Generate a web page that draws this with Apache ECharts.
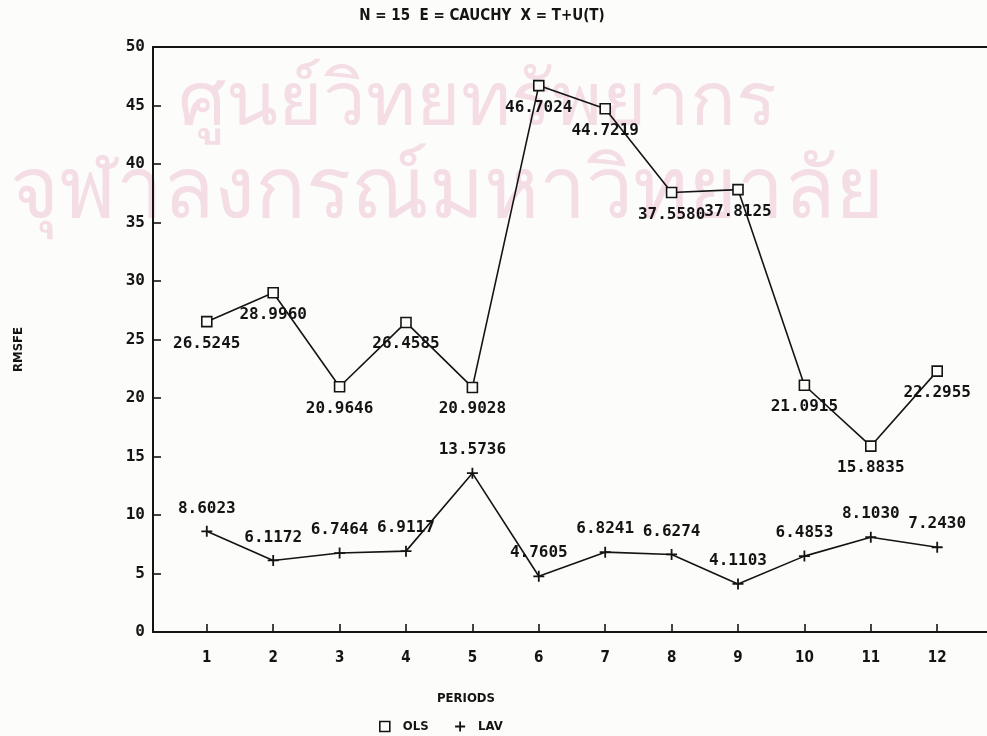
<!DOCTYPE html>
<html>
<head>
<meta charset="utf-8">
<script src="https://cdn.jsdelivr.net/npm/echarts@6/dist/echarts.min.js"></script>
<style>
  html, body { margin: 0; padding: 0; background: #fcfcfb; }
  #chart { width: 987px; height: 736px; }
</style>
</head>
<body>
<div id="chart"></div>
<script>
// Forecast periods and RMSFE for the two estimators
const periods = [1, 2, 3, 4, 5, 6, 7, 8, 9, 10, 11, 12];
const olsValues = [26.5245, 28.9960, 20.9646, 26.4585, 20.9028, 46.7024, 44.7219, 37.5580, 37.8125, 21.0915, 15.8835, 22.2955];
const lavValues = [8.6023, 6.1172, 6.7464, 6.9117, 13.5736, 4.7605, 6.8241, 6.6274, 4.1103, 6.4853, 8.1030, 7.2430];
const yTicks = [0, 5, 10, 15, 20, 25, 30, 35, 40, 45, 50];

const ink = '#141414';
const monoFont = 'DejaVu Sans Mono';
const condFont = 'DejaVu Sans Condensed';

const pair = (vals) => periods.map((p, i) => [p, vals[i]]);
const plusPath = 'path://M5,0L5,10M0,5L10,5';

const chart = echarts.init(document.getElementById('chart'), null, { renderer: 'canvas' });

chart.setOption({
  backgroundColor: '#fcfcfb',
  animation: false,
  title: {
    text: 'N = 15  E = CAUCHY  X = T+U(T)',
    left: 477,
    textAlign: 'center',
    top: 4,
    textStyle: { fontFamily: condFont, fontWeight: 'bold', fontSize: 15, color: ink }
  },
  legend: {
    left: 374,
    top: 714,
    itemWidth: 10,
    itemHeight: 10,
    itemGap: 24,
    textStyle: { fontFamily: condFont, fontWeight: 'bold', fontSize: 13, color: ink, padding: [0, 0, 0, 8] },
    data: [
      { name: 'OLS', icon: 'rect', itemStyle: { color: '#fcfcfb', borderColor: ink, borderWidth: 1.6 } },
      { name: 'LAV', icon: plusPath, itemStyle: { color: 'none', borderColor: ink, borderWidth: 1.8 } }
    ]
  },
  grid: { left: 153, right: 0, top: 47, bottom: 104 },
  xAxis: [
    {
      type: 'value',
      min: 0.19,
      max: 12.75,
      axisLine: { show: true, lineStyle: { color: ink, width: 2 } },
      axisTick: { show: true, inside: true, length: 8, customValues: periods, lineStyle: { color: ink, width: 1.6 } },
      axisLabel: { customValues: periods, margin: 19, fontFamily: condFont, fontWeight: 'bold', fontSize: 15, color: ink },
      splitLine: { show: false }
    },
    {
      type: 'value',
      position: 'top',
      min: 0.19,
      max: 12.75,
      axisLine: { show: true, lineStyle: { color: ink, width: 2 } },
      axisTick: { show: false },
      axisLabel: { show: false },
      splitLine: { show: false }
    }
  ],
  yAxis: {
    type: 'value',
    min: 0,
    max: 50,
    interval: 5,
    axisLine: { show: true, lineStyle: { color: ink, width: 2 } },
    axisTick: { show: true, inside: true, length: 8, customValues: yTicks, lineStyle: { color: ink, width: 1.6 } },
    axisLabel: { customValues: yTicks, margin: 8, fontFamily: monoFont, fontWeight: 'bold', fontSize: 16, color: ink },
    splitLine: { show: false }
  },
  graphic: [
    {
      type: 'text',
      left: 178,
      top: 66,
      z: -10,
      silent: true,
      style: { text: 'ศูนย์วิทยทรัพยากร', fontSize: 76, fill: '#f4dde5' }
    },
    {
      type: 'text',
      left: 10,
      top: 152,
      z: -10,
      silent: true,
      style: { text: 'จุฬาลงกรณ์มหาวิทยาลัย', fontSize: 84, fill: '#f4dde5' }
    },
    {
      type: 'text',
      left: 437,
      top: 692,
      style: { text: 'PERIODS', fontFamily: condFont, fontWeight: 'bold', fontSize: 13, fill: ink }
    },
    {
      type: 'text',
      x: 12,
      y: 372,
      rotation: Math.PI / 2,
      style: { text: 'RMSFE', fontFamily: condFont, fontWeight: 'bold', fontSize: 13, fill: ink }
    }
  ],
  series: [
    {
      name: 'OLS',
      type: 'line',
      data: pair(olsValues),
      symbol: 'rect',
      symbolSize: 10,
      lineStyle: { color: ink, width: 1.6 },
      itemStyle: { color: '#fcfcfb', borderColor: ink, borderWidth: 1.6 },
      label: {
        show: true,
        position: 'bottom',
        distance: 8,
        formatter: (p) => p.value[1].toFixed(4),
        fontFamily: monoFont,
        fontWeight: 'bold',
        fontSize: 16,
        color: ink
      },
      z: 3
    },
    {
      name: 'LAV',
      type: 'line',
      data: pair(lavValues),
      symbol: plusPath,
      symbolSize: 11,
      lineStyle: { color: ink, width: 1.6 },
      itemStyle: { color: 'none', borderColor: ink, borderWidth: 1.8 },
      label: {
        show: true,
        position: 'top',
        distance: 7,
        formatter: (p) => p.value[1].toFixed(4),
        fontFamily: monoFont,
        fontWeight: 'bold',
        fontSize: 16,
        color: ink
      },
      z: 3
    }
  ]
});
</script>
</body>
</html>
